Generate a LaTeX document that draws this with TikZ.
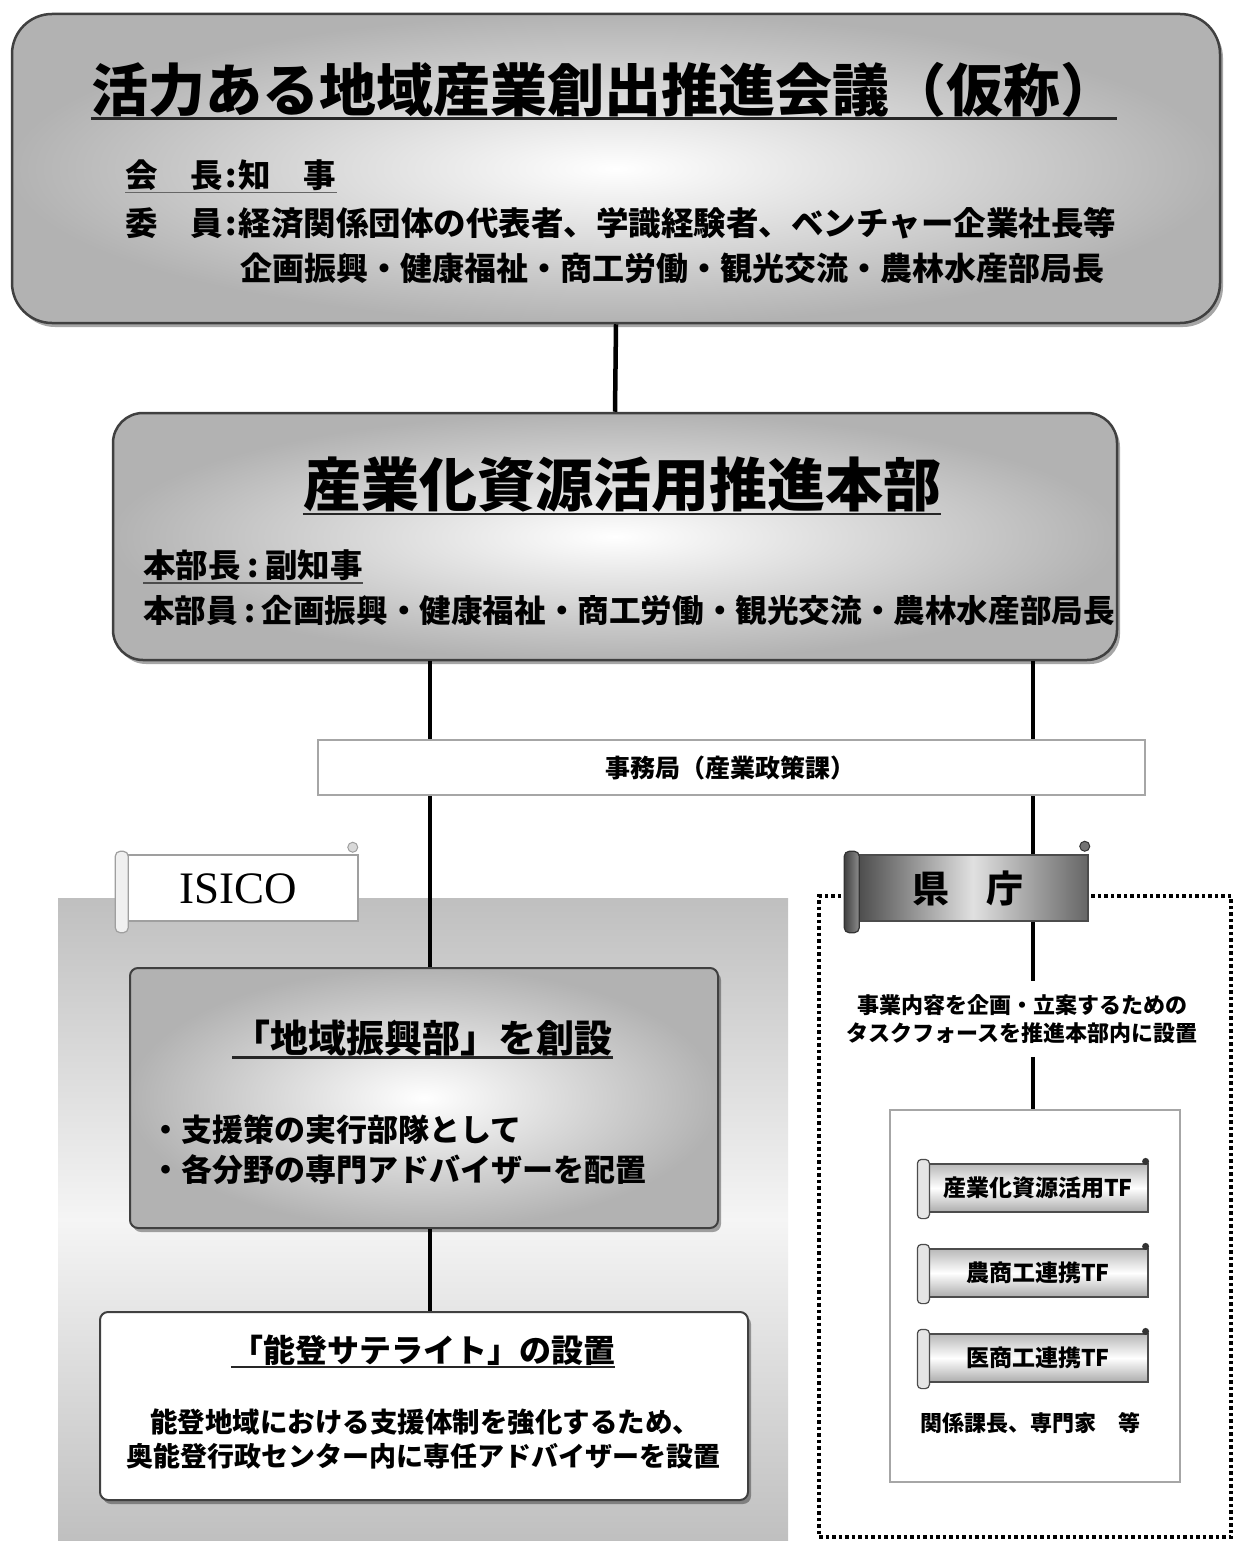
\documentclass[tikz,border=0pt]{standalone}
\usepackage{fontspec}
\setmainfont{Noto Sans CJK JP}
\newfontfamily\isicofont{Liberation Serif}
\usetikzlibrary{shadows,calc}
\newcommand\jfs[1]{\fontsize{#1pt}{#1pt}\selectfont\bfseries}
\newcommand\hcol[1]{\makebox[#1em][c]{:}}
\begin{document}
\begin{tikzpicture}[x=1pt,y=-1pt,
  conn/.style={line width=4.5pt, black},
  ul/.style={line width=2.5pt, black!85},
  txt/.style={inner sep=0pt},
  shadowed/.style={drop shadow={shadow xshift=3pt, shadow yshift=-4pt, fill=black, opacity=0.35}},
  bigbox/.style={draw=black!75, line width=2.5pt, inner color=white, outer color=gray!60, shadowed},
  rollstyle/.style={draw=gray!75, line width=1.2pt, fill=gray!12, rounded corners=5pt},
  tfscroll/.style={draw=gray!60!black, line width=1.2pt, top color=gray!55, bottom color=gray!65, middle color=white, minimum width=220pt, minimum height=48pt, inner sep=0pt, font=\jfs{23}}
]
\useasboundingbox (0,0) rectangle (1234,1541);
\fill[white] (0,0) rectangle (1234,1541);

% ISICO grey area
\node[inner sep=0pt, minimum width=730pt, minimum height=643pt, anchor=north west,
  top color=gray!50, bottom color=gray!50, middle color=gray!8] (isarea) at (58,898) {};

% dotted prefecture area
\node[draw=black, line width=3.5pt, dash pattern=on 3.5pt off 3pt, minimum width=412pt, minimum height=641pt, inner sep=0pt] (kbox) at (1025,1216.5) {};

% top box
\node[bigbox, rounded corners=40pt, minimum width=1208pt, minimum height=309pt] (top) at (616,168.5) {};
\node[txt, font=\jfs{57}] (t1) at (604,90) {活力ある地域産業創出推進会議（仮称）};
\draw[ul] ([yshift=-1pt]t1.south west) -- ([yshift=-1pt]t1.south east);
\node[txt, anchor=west, font=\jfs{32.5}] (t2) at (125,175) {会　長\hcol{0.5}知　事};
\draw[line width=1.5pt, black!60] ([yshift=-2pt]t2.south west) -- ([yshift=-2pt]t2.south east);
\node[txt, anchor=west, font=\jfs{32.5}] (t3) at (125,223) {委　員\hcol{0.5}経済関係団体の代表者、学識経験者、ベンチャー企業社長等};
\node[txt, anchor=west, font=\jfs{32}] (t4) at (240,268) {企画振興・健康福祉・商工労働・観光交流・農林水産部局長};

% headquarters box
\node[bigbox, rounded corners=30pt, minimum width=1004pt, minimum height=247pt] (hq) at (615,536.5) {};
\node[txt, font=\jfs{58}] (h1) at (622,485) {産業化資源活用推進本部};
\draw[ul] ([yshift=-1pt]h1.south west) -- ([yshift=-1pt]h1.south east);
\node[txt, anchor=west, font=\jfs{32.5}] (h2) at (143,565) {本部長\hcol{0.75}副知事};
\draw[line width=2pt, black!70] ([yshift=-2pt]h2.south west) -- ([yshift=-2pt]h2.south east);
\node[txt, anchor=west, font=\jfs{31.6}] (h3) at (143,610) {本部員\hcol{0.75}企画振興・健康福祉・商工労働・観光交流・農林水産部局長};

% chiiki shinko box
\node[bigbox, rounded corners=8pt, line width=2pt, minimum width=588pt, minimum height=260pt] (chiiki) at (424,1098) {};
\node[txt, font=\jfs{38}] (c1) at (422.5,1038) {「地域振興部」を創設};
\draw[ul] ([yshift=-1pt]c1.south west) -- ([yshift=-1pt]c1.south east);
\node[txt, anchor=west, font=\jfs{31}] (c2) at (150,1130) {・支援策の実行部隊として};
\node[txt, anchor=west, font=\jfs{31}] (c3) at (150,1170) {・各分野の専門アドバイザーを配置};

% noto satellite box
\node[draw=black!75, line width=2pt, fill=white, rounded corners=8pt, minimum width=648pt, minimum height=188pt, shadowed] (noto) at (424,1406) {};
\node[txt, font=\jfs{32}] (n1) at (423,1350) {「能登サテライト」の設置};
\draw[ul, line width=2pt] ([yshift=-1pt]n1.south west) -- ([yshift=-1pt]n1.south east);
\node[txt, font=\jfs{27.5}] (n2) at (425,1422) {能登地域における支援体制を強化するため、};
\node[txt, font=\jfs{27}] (n3) at (423,1456) {奥能登行政センター内に専任アドバイザーを設置};

% TF box
\node[draw=gray!70, line width=1.5pt, fill=white, minimum width=290pt, minimum height=372pt, inner sep=0pt] (tfbox) at (1035,1296) {};
\node[tfscroll] (tf1) at (1038,1188) {産業化資源活用TF};
\node[tfscroll] (tf2) at (1038,1273) {農商工連携TF};
\node[tfscroll] (tf3) at (1038,1358) {医商工連携TF};
\foreach \n in {tf1,tf2,tf3} {
  \draw[rollstyle, rounded corners=4pt, draw=gray!60!black, fill=gray!20] ([xshift=-10pt,yshift=4pt]\n.north west) rectangle ([xshift=2pt,yshift=-6pt]\n.south west);
  \fill[black!80] ([xshift=-3pt,yshift=2pt]\n.north east) circle[radius=3.5pt];
}
\node[txt, font=\jfs{22}] (tfnote) at (1030,1423) {関係課長、専門家　等};

% ISICO banner
\node[draw=gray!75, line width=1.5pt, fill=white, minimum width=230pt, minimum height=66pt, inner sep=0pt] (isico) at (243,888) {};
\node[txt, font=\isicofont\fontsize{45pt}{45pt}\selectfont] (isicot) at (238,889) {ISICO};
\draw[rollstyle] ([xshift=-12pt,yshift=3pt]isico.north west) rectangle ([xshift=1pt,yshift=-11pt]isico.south west);
\draw[draw=gray!75, line width=1pt, fill=gray!30] ([xshift=-6pt,yshift=7pt]isico.north east) circle[radius=5pt];

% prefecture banner
\node[draw=black!70, line width=1.5pt, left color=black!70, right color=black!60, middle color=black!12, minimum width=230pt, minimum height=66pt, inner sep=0pt] (ken) at (973,888) {};
\node[txt, font=\jfs{37}] (kent) at (968,888) {県　庁};
\draw[rollstyle, draw=black!80, left color=black!75, right color=black!45] ([xshift=-13pt,yshift=3pt]ken.north west) rectangle ([xshift=2pt,yshift=-11pt]ken.south west);
\draw[draw=black!80, line width=1pt, fill=black!55] ([xshift=-4pt,yshift=8pt]ken.north east) circle[radius=5pt];

% task force text
\node[inner xsep=0pt, inner ysep=13pt, align=center, font=\jfs{22}] (task) at (1022,1019)
  {事業内容を企画・立案するための\\[6pt]タスクフォースを推進本部内に設置};

% connectors
\coordinate (L) at (430,0);
\coordinate (R) at (1033,0);
\draw[conn] (top.south) -- (hq.north);
\draw[conn] (hq.south -| L) -- (chiiki.north -| L);
\draw[conn] (chiiki.south -| L) -- (noto.north -| L);
\draw[conn] (hq.south -| R) -- (ken.north -| R);
\draw[conn] (ken.south -| R) -- (task.north -| R);
\draw[conn] (task.south -| R) -- (tfbox.north -| R);

% secretariat box (over the connectors)
\node[draw=gray!70, line width=1.5pt, fill=white, minimum width=827pt, minimum height=55pt, inner sep=0pt] (jimu) at (731.5,767.5) {};
\node[txt, font=\jfs{25}] (jimut) at (730,768) {事務局（産業政策課）};
\end{tikzpicture}
\end{document}
